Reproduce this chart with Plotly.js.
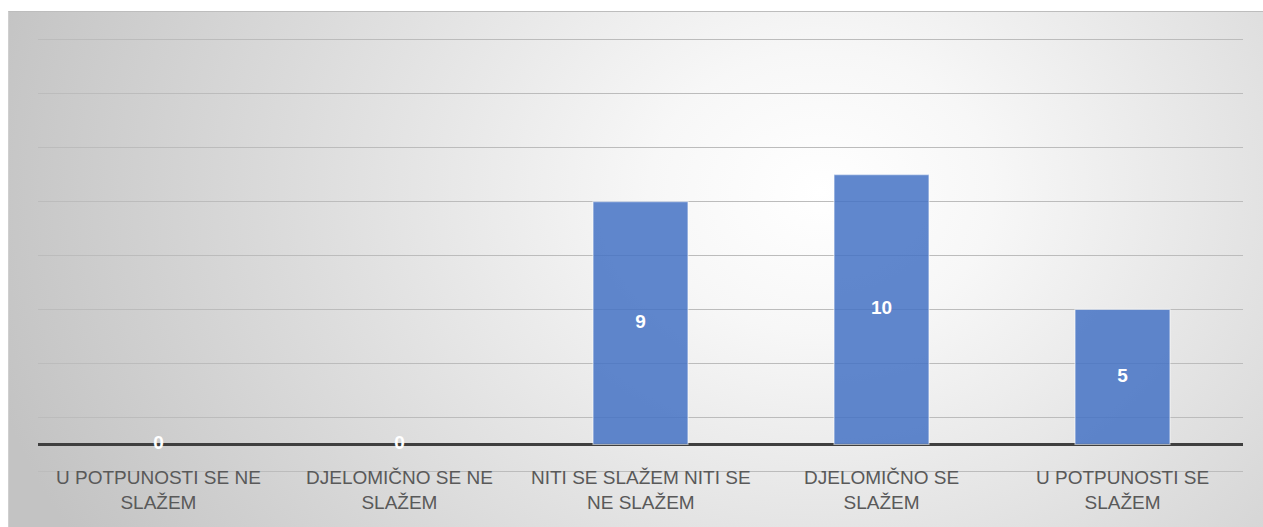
<!DOCTYPE html>
<html>
<head>
<meta charset="utf-8">
<script src="https://cdn.plot.ly/plotly-3.0.1.min.js"></script>
<style>
  html, body { margin: 0; padding: 0; background: #ffffff; }
  #bg { position: absolute; left: 8px; top: 11px; width: 1255px; height: 516px;
        border-top: 1px solid #bdbdbd; border-left: 1px solid #cfcfcf; box-sizing: border-box;
        background: radial-gradient(ellipse 860px 700px at 812px 180px, #ffffff 0%, #f7f7f7 20%, #e0e0e0 55%, #c3c3c3 100%); }
  #chart { position: absolute; left: 0; top: 0; width: 1263px; height: 527px; }
</style>
</head>
<body>
<div id="bg"></div>
<div id="chart"></div>
<script>
const categories = ["U POTPUNOSTI SE NE<br>SLAŽEM", "DJELOMIČNO SE NE<br>SLAŽEM", "NITI SE SLAŽEM NITI SE<br>NE SLAŽEM", "DJELOMIČNO SE<br>SLAŽEM", "U POTPUNOSTI SE<br>SLAŽEM"];
const values = [0, 0, 9, 10, 5];

const bars = {
  type: 'bar',
  x: categories,
  y: values,
  marker: { color: 'rgba(68,114,196,0.85)',
            line: { color: 'rgba(255,255,255,0.55)', width: values.map(v => v > 0 ? 1.2 : 0) } },
  hoverinfo: 'none'
};
const labels = {
  type: 'scatter',
  mode: 'text',
  x: categories,
  y: values.map(v => v / 2),
  text: values.map(v => String(v)),
  textfont: { family: 'Liberation Sans, Arial, sans-serif', size: 19, color: '#ffffff', weight: 'bold' },
  textposition: 'middle center',
  hoverinfo: 'none',
  cliponaxis: false
};
const catAnnotations = categories.map(c => ({
  x: c, xref: 'x', y: 0.0, yref: 'paper', yshift: 9,
  yanchor: 'top', xanchor: 'center', showarrow: false, text: c, align: 'center',
  font: { family: 'Liberation Sans, Arial, sans-serif', size: 19, color: '#595959' }
}));

const layout = {
  width: 1263, height: 527,
  margin: { l: 38, r: 20, t: 37, b: 53 },
  paper_bgcolor: 'rgba(0,0,0,0)',
  plot_bgcolor: 'rgba(0,0,0,0)',
  showlegend: false,
  bargap: 0.606,
  xaxis: { showticklabels: false, showgrid: false, zeroline: false, showline: false, ticks: '', fixedrange: true },
  yaxis: { range: [-1.1, 15.1], tick0: -1, dtick: 2, showticklabels: false, ticks: '',
           showgrid: true, gridcolor: '#bcbcbc', gridwidth: 1.2,
           zeroline: true, zerolinecolor: '#3f3f3f', zerolinewidth: 3.5, showline: false },
  annotations: catAnnotations
};

Plotly.newPlot('chart', [bars, labels], layout, { displayModeBar: false, staticPlot: true });
</script>
</body>
</html>
